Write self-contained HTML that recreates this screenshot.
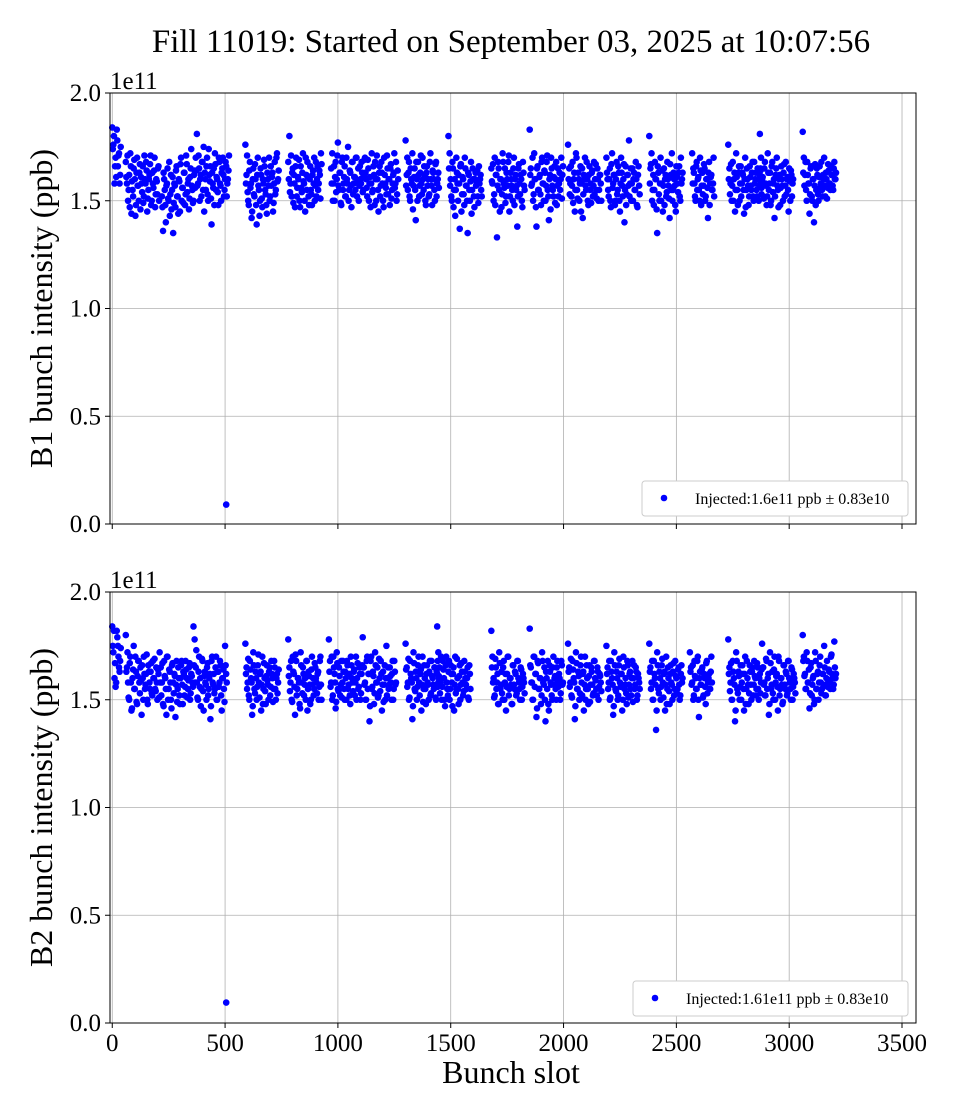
<!DOCTYPE html>
<html><head><meta charset="utf-8">
<style>
body{margin:0;background:#fff;}
svg{display:block;font-family:"Liberation Serif",serif;}
</style></head>
<body>
<svg id="chart" width="960" height="1120">
<text x="511" y="52" font-size="33" text-anchor="middle">Fill 11019: Started on September 03, 2025 at 10:07:56</text>
</svg>
<script>
const xTicks=[0,500,1000,1500,2000,2500,3000,3500];
const yTicks=[0.0,0.5,1.0,1.5,2.0];
const b1Starts=[0,60,220,370,590,780,970,1120,1300,1490,1680,1850,2020,2190,2380,2570,2730,2870,3060];
const b2Starts=[0,60,210,360,590,780,960,1110,1300,1440,1680,1850,2020,2190,2380,2560,2730,2880,3060];
const slotStep=5;
const b1Trains=[
[184,176,158,170,183,166,172,162],
[168,158,150,162,172,144,155,165,160,148,170,157,163,146,158,166,152,160,168,145,155,162,171,150,158,164,147,160,153,166],
[152,136,160,148,157,165,150,143,162,155,135,158,147,166,152,160,145,170,156,149,163,153,167,158,146,161,174,155,150,164],
[170,181,158,165,160,152,168,175,163,155,170,150,162,166,139,158,165,172,155,160,148,168,157,163,170,152,160,166,158,164],
[176,162,154,148,168,158,145,165,152,160,139,170,155,150,162,147,158,166,153,144,160,170,152,157,163,149,168,155,172,160],
[168,180,158,152,165,162,147,170,156,160,150,166,154,172,158,145,162,168,152,160,155,148,164,170,157,152,166,158,162,172],
[165,172,158,150,168,160,177,155,163,148,170,158,166,152,160,175,155,163,147,168,158,161,170,152,165,157,160,168,154,162],
[170,160,152,165,158,147,172,155,162,168,150,160,145,166,157,163,150,170,158,153,165,160,148,167,155,162,172,158,150,164],
[178,162,155,168,150,160,172,157,165,141,160,168,152,163,158,170,155,162,148,166,160,153,172,157,164,160,150,168,158,163],
[180,172,160,150,165,155,143,170,158,162,137,167,153,160,148,165,157,135,162,150,168,155,160,147,163,158,152,166,160,155],
[165,158,150,170,162,133,168,155,160,147,172,158,165,152,160,168,145,163,157,150,170,160,155,138,165,158,162,150,168,157],
[183,165,158,150,172,160,138,166,155,162,148,170,158,164,150,168,155,141,162,170,157,152,166,160,148,165,158,155,170,162],
[176,165,158,152,168,160,145,172,155,163,150,166,158,142,162,170,155,160,148,166,158,163,152,168,160,155,165,150,162,158],
[170,160,152,165,147,172,158,162,150,168,155,163,145,170,157,160,140,166,153,162,178,158,150,165,160,155,168,148,162,157],
[180,165,172,155,148,168,160,135,163,150,170,158,145,165,160,152,168,157,142,162,172,155,160,148,166,158,163,152,170,160],
[172,165,158,150,168,160,155,170,148,163,157,165,152,160,142,168,158,162,155,170],
[176,165,158,150,168,160,145,172,155,163,150,166,158,162,144,170,155,160,148,166,157,163,152,168,160,155,165,150,162,158],
[181,170,160,152,165,158,148,172,155,163,150,168,158,142,162,170,155,160,148,166,157,163,152,168,160,155,165,150,162,158],
[182,170,162,155,168,158,144,165,152,160,140,167,155,162,150,166,158,155,162,170,152,160,156,164,158,166,162,155,168,160]];
const b1TrainsB=[
[174,180,166,161,178,171,158,175],
[161,171,155,147,166,159,152,169,143,163,157,150,167,161,154,149,171,158,164,151,160,167,148,163,156,170,153,159,165,150],
[147,163,155,140,158,151,168,153,146,161,149,157,164,152,144,159,167,150,156,163,148,171,154,160,151,165,157,149,162,156],
[164,157,171,150,162,168,155,145,160,166,153,174,159,151,163,156,148,167,161,154,170,158,150,165,162,155,168,152,160,171],
[158,171,150,164,156,142,160,153,167,148,162,157,143,165,151,160,169,155,148,163,157,150,166,161,145,158,153,170,159,164],
[160,154,171,163,149,158,166,152,161,169,147,156,163,159,150,170,155,161,148,166,153,162,158,150,168,160,155,164,151,167],
[158,150,166,161,154,171,157,163,149,168,155,161,152,170,158,150,164,157,168,153,161,155,170,159,150,166,158,163,155,169],
[163,156,169,150,161,158,154,166,148,160,171,155,163,152,168,158,147,162,156,171,153,160,165,151,158,163,156,168,153,160],
[157,170,163,152,165,158,146,161,155,168,150,162,157,171,153,160,166,150,163,157,152,168,160,148,163,155,167,152,160,156],
[165,157,152,168,147,160,155,163,150,158,166,145,161,153,170,157,150,163,155,159,144,165,152,160,157,164,149,158,162,152],
[159,167,153,148,162,157,165,145,160,153,168,156,149,163,157,171,152,160,155,165,148,162,157,152,167,153,160,147,163,155],
[162,157,170,153,160,147,165,155,161,153,168,158,150,163,157,171,152,160,146,165,155,161,149,168,157,152,163,160,151,166],
[160,153,166,157,149,163,155,170,151,160,158,145,165,153,160,157,168,150,162,155,149,164,157,153,167,151,160,155,162,150],
[163,155,160,150,167,156,162,148,160,153,166,150,158,163,152,167,155,148,162,157,152,165,158,150,163,155,160,147,166,153],
[158,167,150,162,155,160,146,166,153,158,150,164,157,148,162,154,160,151,167,155,150,163,157,145,161,154,166,150,158,163],
[158,163,152,166,155,161,150,164,157,153,167,150,160,156,163,148,161,155,158,152],
[160,153,167,157,150,163,155,161,148,166,158,152,163,155,160,147,165,157,152,161,155,168,150,158,163,152,160,157,164,153],
[165,156,161,151,168,157,152,163,158,148,166,154,160,152,165,157,147,162,156,160,150,167,157,153,161,145,159,164,152,160],
[163,157,168,150,162,158,153,166,150,160,157,148,165,153,161,156,168,152,160,157,163,151,167,158,155,162,157,165,160,163]];
const b2Trains=[
[184,172,160,156,182,175,165,168],
[180,165,158,150,170,145,160,175,155,163,148,168,158,165,143,160,170,155,162,150,166,158,163,153,168,160,155,165,150,162],
[172,165,158,148,168,160,143,170,155,163,150,166,158,162,142,168,155,160,148,166,157,163,152,168,160,155,165,150,162,158],
[184,178,165,158,150,170,160,155,168,145,163,157,165,152,160,141,168,158,162,155,170,150,163,158,166,145,160,155,175,162],
[176,165,158,152,168,160,143,172,155,163,150,166,158,162,145,170,155,160,148,166,157,163,152,168,160,155,165,150,162,158],
[178,165,158,150,170,162,143,168,155,160,148,172,158,165,152,160,168,145,163,157,150,170,160,155,165,158,162,150,168,157],
[178,168,158,150,170,162,146,172,155,165,152,168,158,163,150,160,168,155,162,148,166,158,163,152,170,160,155,165,150,162],
[179,165,158,150,170,162,140,168,155,163,148,172,158,165,152,160,168,145,163,157,150,175,160,155,165,158,162,150,168,157],
[176,165,158,150,168,160,141,172,155,163,150,166,158,162,145,170,155,160,148,166,157,163,152,168,160,155,165,150,162,158],
[184,172,165,158,150,168,160,147,170,155,163,150,166,158,162,145,170,155,160,148,166,157,163,152,168,160,155,165,150,162],
[182,170,160,152,165,158,148,172,155,163,150,168,158,145,162,170,155,160,148,166,157,163,152,168,160,155,165,150,162,158],
[183,165,158,150,170,162,142,168,155,160,148,172,158,165,140,160,168,145,163,157,150,170,160,155,165,158,162,150,168,157],
[176,165,158,152,168,160,141,172,155,163,150,166,158,162,145,170,155,160,148,166,157,163,152,168,160,155,165,150,162,158],
[175,165,158,150,168,160,143,172,155,163,150,166,158,162,145,170,155,160,148,166,157,163,152,168,160,155,165,150,162,158],
[176,165,158,150,168,160,136,172,155,163,150,166,158,162,145,170,155,160,148,166,157,163,152,168,160,155,165,150,162,158],
[172,165,158,150,168,160,155,170,142,163,157,165,152,160,148,168,158,162,155,170],
[178,165,158,150,168,160,140,172,155,163,150,166,158,162,145,170,155,160,148,166,157,163,152,168,160,155,165,150,162,158],
[176,165,158,152,168,160,143,172,155,163,150,170,158,162,145,168,155,160,148,166,157,163,152,168,160,155,165,150,162,158],
[180,170,162,155,168,158,146,165,152,160,148,172,155,162,150,166,158,155,162,175,152,160,156,164,158,170,162,155,177,160]];
const b2TrainsB=[
[175,182,167,158,179,170,163,174],
[163,172,151,167,158,146,164,155,170,149,161,168,153,159,166,150,162,157,171,148,163,155,167,152,160,169,154,158,164,151],
[158,152,167,147,161,155,170,150,164,158,146,167,153,161,157,149,165,152,160,168,148,162,156,164,151,159,167,153,161,156],
[166,158,173,151,163,156,147,169,154,161,158,150,167,155,162,147,170,157,153,165,150,163,156,168,152,160,164,149,166,158],
[162,155,169,150,164,158,147,166,153,160,156,171,151,163,157,148,167,154,161,159,150,165,156,162,149,168,155,160,153,164],
[161,154,168,149,163,156,171,152,160,158,146,166,153,162,157,150,168,155,161,148,164,157,152,167,160,153,163,156,170,150],
[163,156,170,152,165,158,149,167,154,161,157,151,168,155,163,150,166,157,152,170,160,154,164,158,150,167,156,162,153,166],
[165,157,150,168,155,162,147,170,156,161,153,166,158,151,169,154,162,157,149,166,160,152,165,157,161,150,168,155,163,158],
[164,156,169,151,162,158,147,167,154,160,156,170,152,164,157,149,166,155,162,158,150,168,153,161,157,165,151,163,156,160],
[168,161,153,170,156,164,150,166,158,152,168,155,162,147,165,157,153,169,155,161,150,167,158,154,163,157,160,151,166,155],
[165,158,151,169,155,162,148,167,157,153,165,150,162,156,170,152,160,157,148,166,155,162,153,168,158,150,164,156,160,153],
[166,158,150,170,156,162,146,167,155,160,152,168,157,150,163,155,148,166,158,152,165,157,161,150,168,156,160,153,166,158],
[163,156,169,151,164,158,147,167,155,161,153,170,152,163,157,150,166,155,161,149,165,157,153,168,159,152,163,156,161,154],
[162,155,168,151,163,157,147,166,154,160,152,169,156,162,150,165,157,153,168,151,162,155,160,149,166,157,163,152,160,155],
[163,155,168,150,162,157,145,166,153,160,156,169,151,163,157,148,165,154,162,158,150,167,155,161,153,164,157,152,166,160],
[163,157,166,152,161,155,168,150,160,157,164,151,162,156,167,153,160,155,163,158],
[162,154,167,150,163,157,145,168,153,161,156,150,166,155,162,148,168,157,153,163,150,165,157,161,152,167,155,160,153,164],
[165,157,152,169,155,162,148,167,157,153,164,150,161,156,170,152,160,157,149,166,155,162,153,168,158,150,164,156,160,153],
[168,161,155,172,158,164,153,167,157,161,150,168,155,163,158,170,153,162,157,165,152,168,158,163,155,171,160,157,165,162]];
const outlierSlot=[505,505];
const outlierVal=[0.09,0.095];
const legendText=["Injected:1.6e11 ppb \u00b1 0.83e10","Injected:1.61e11 ppb \u00b1 0.83e10"];
const yTitles=["B1 bunch intensity (ppb)","B2 bunch intensity (ppb)"];

const NS="http://www.w3.org/2000/svg";
const svg=document.getElementById('chart');
function mk(tag,attrs,parent){const e=document.createElementNS(NS,tag);for(const k in attrs)e.setAttribute(k,attrs[k]);(parent||svg).appendChild(e);return e;}
const L=110,R=916,xMin=-10,xMax=3562;
function xS(v){return L+(v-xMin)/(xMax-xMin)*(R-L);}
const panels=[{top:93,bot:524,starts:b1Starts,sets:[b1Trains,b1TrainsB],leg:[642,481,266]},{top:592,bot:1023,starts:b2Starts,sets:[b2Trains,b2TrainsB],leg:[633,981,275]}];
panels.forEach((p,pi)=>{
  const yS=v=>p.bot-(v/2.0)*(p.bot-p.top);
  const g=mk('g',{});
  
  
  xTicks.forEach(t=>{const l=mk('line',{x1:xS(t),x2:xS(t),y1:p.top,y2:p.bot,stroke:'#b0b0b0','stroke-width':0.8},g);
    
    mk('line',{x1:xS(t),x2:xS(t),y1:p.bot,y2:p.bot+5,stroke:'#000'},g);
    if(pi===1){const tx=mk('text',{x:xS(t),y:p.bot+28,'font-size':25,'text-anchor':'middle'},g);tx.textContent=t;
      }});
  yTicks.forEach(t=>{const l=mk('line',{x1:L,x2:R,y1:yS(t),y2:yS(t),stroke:'#b0b0b0','stroke-width':0.8},g);
    
    mk('line',{x1:L-5,x2:L,y1:yS(t),y2:yS(t),stroke:'#000'},g);
    const tx=mk('text',{x:L-9,y:yS(t)+8,'font-size':25,'text-anchor':'end'},g);tx.textContent=t.toFixed(1);
    });
  const off=mk('text',{x:L,y:p.top-4,'font-size':25},g);off.textContent='1e11';
  
  const yt=mk('text',{x:0,y:0,'font-size':32,'text-anchor':'middle',transform:`translate(52,${(p.top+p.bot)/2}) rotate(-90)`},g);yt.textContent=yTitles[pi];
  
  p.sets.forEach((set,si)=>set.forEach((tr,ti)=>tr.forEach((v,i)=>{const c=mk('circle',{cx:xS(p.starts[ti]+i*slotStep+si*slotStep/2),cy:yS(v/100),r:3.3,fill:'#0000ff'},g);
    })));
  const o=mk('circle',{cx:xS(outlierSlot[pi]),cy:yS(outlierVal[pi]),r:3.3,fill:'#0000ff'},g);
  
  const fr=mk('rect',{x:L,y:p.top,width:R-L,height:p.bot-p.top,fill:'none',stroke:'#000','stroke-width':1},g);
  
  const lg=mk('g',{},g);
  mk('rect',{x:p.leg[0],y:p.leg[1],width:p.leg[2],height:35,rx:3,fill:'#fff',stroke:'#ccc'},lg);
  mk('circle',{cx:p.leg[0]+22,cy:p.leg[1]+17,r:3.3,fill:'#0000ff'},lg);
  const lt=mk('text',{x:p.leg[0]+53,y:p.leg[1]+23,'font-size':16},lg);lt.textContent=legendText[pi];
  
});
const xt=mk('text',{x:511,y:1083,'font-size':32,'text-anchor':'middle'});xt.textContent='Bunch slot';


</script>
</body></html>
